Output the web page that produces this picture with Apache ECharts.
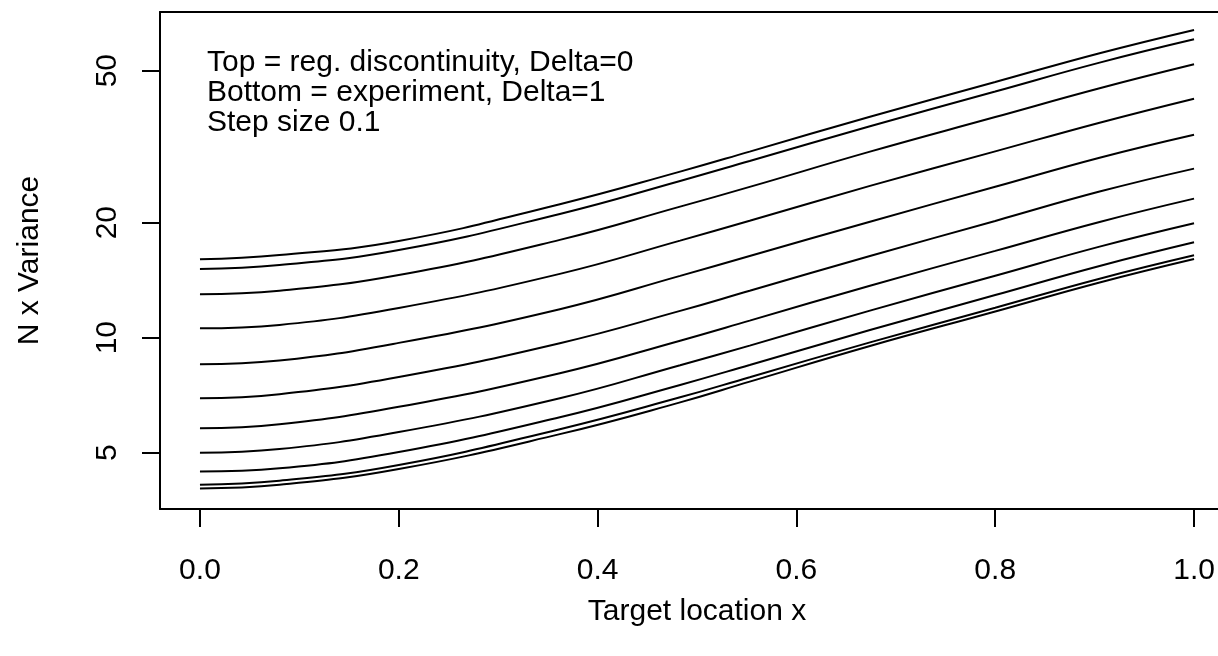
<!DOCTYPE html>
<html>
<head>
<meta charset="utf-8">
<script src="https://cdn.jsdelivr.net/npm/echarts@6/dist/echarts.min.js"></script>
<style>
  html, body { margin: 0; padding: 0; background: #fff; }
  #chart { width: 1218px; height: 656px; }
</style>
</head>
<body>
<div id="chart"></div>
<script>
// Target locations where each variance curve is sampled
const targetX = [0, 0.08, 0.2, 0.362, 0.483, 0.553, 0.674, 0.8, 0.905, 1.0];

// N x Variance for Delta = 0.0 ... 1.0 (top curve = Delta 0, bottom curve = Delta 1)
const delta00 = [16.04, 16.46, 17.91, 22.35, 27.20, 30.69, 37.88, 46.68, 55.53, 63.9];
const delta01 = [15.13, 15.50, 16.96, 21.08, 25.72, 29.01, 35.76, 44.09, 52.48, 60.4];
const delta02 = [12.99, 13.27, 14.59, 18.03, 22.03, 24.81, 30.69, 37.80, 44.97, 51.96];
const delta03 = [10.58, 10.80, 11.96, 14.69, 17.95, 20.24, 24.96, 30.73, 36.54, 42.23];
const delta04 = [8.52, 8.71, 9.69, 11.87, 14.51, 16.36, 20.12, 24.83, 29.59, 33.99];
const delta05 = [6.94, 7.11, 7.89, 9.67, 11.75, 13.27, 16.36, 20.21, 24.12, 27.70];
const delta06 = [5.79, 5.93, 6.59, 8.07, 9.82, 11.08, 13.68, 16.87, 20.09, 23.12];
const delta07 = [5.00, 5.11, 5.66, 6.94, 8.47, 9.53, 11.77, 14.52, 17.31, 19.93];
const delta08 = [4.46, 4.55, 5.02, 6.19, 7.52, 8.48, 10.47, 12.93, 15.41, 17.77];
const delta09 = [4.12, 4.22, 4.64, 5.76, 6.98, 7.88, 9.72, 11.98, 14.27, 16.43];
const delta10 = [4.03, 4.12, 4.53, 5.59, 6.77, 7.67, 9.51, 11.71, 13.95, 16.07];

const curves = [delta00, delta01, delta02, delta03, delta04, delta05,
                delta06, delta07, delta08, delta09, delta10];
const deltaNames = ['0', '0.1', '0.2', '0.3', '0.4', '0.5', '0.6', '0.7', '0.8', '0.9', '1'];

// Axis ticks
const xTicks = [0, 0.2, 0.4, 0.6, 0.8, 1.0];
const yTicks = [5, 10, 20, 50];

// Note lines in the upper-left corner
const noteLines = [
  'Top = reg. discontinuity, Delta=0',
  'Bottom = experiment, Delta=1',
  'Step size 0.1'
];

const FONT = '"Liberation Sans", Arial, Helvetica, sans-serif';
const FS = 30;
const FRAME = { color: '#000', width: 2 };

// Visible x window; the plot frame continues past the right edge of the page
const X_MIN = -0.0402;
const X_MAX = 1.0241;

const chart = echarts.init(document.getElementById('chart'), null, { renderer: 'canvas' });

const series = curves.map((vals, i) => ({
  name: 'Delta=' + deltaNames[i],
  type: 'line',
  xAxisIndex: 0,
  data: targetX.map((x, j) => [x, vals[j]]),
  showSymbol: false,
  smooth: 0.45,
  lineStyle: { color: '#000', width: 2 },
  emphasis: { disabled: true },
  silent: true,
  z: 3
}));

const option = {
  animation: false,
  backgroundColor: '#fff',
  grid: { left: 160, top: 12, right: 0, bottom: 147, show: false },
  xAxis: [{
    type: 'value',
    position: 'bottom',
    min: X_MIN, max: X_MAX,
    axisLine: { show: true, onZero: false, lineStyle: FRAME },
    splitLine: { show: false },
    axisTick: {
      show: true, length: 18, inside: false,
      customValues: xTicks,
      lineStyle: FRAME
    },
    axisLabel: {
      customValues: xTicks,
      formatter: v => v.toFixed(1),
      margin: 47,
      color: '#000',
      fontFamily: FONT, fontSize: FS
    },
    name: 'Target location x',
    nameLocation: 'middle',
    nameGap: 88,
    nameTextStyle: { color: '#000', fontFamily: FONT, fontSize: FS, padding: [0, 0, 0, 16] }
  }, {
    // top edge of the frame
    type: 'value',
    position: 'top',
    min: X_MIN, max: X_MAX,
    axisLine: { show: true, onZero: false, lineStyle: FRAME },
    axisTick: { show: false },
    axisLabel: { show: false },
    splitLine: { show: false }
  }],
  yAxis: {
    type: 'log',
    logBase: 10,
    min: 3.56, max: 71.2,
    axisLine: { show: true, onZero: false, lineStyle: FRAME },
    splitLine: { show: false },
    axisTick: {
      show: true, length: 18, inside: false,
      customValues: yTicks,
      lineStyle: FRAME
    },
    axisLabel: {
      customValues: yTicks,
      rotate: 90,
      margin: 37,
      color: '#000',
      fontFamily: FONT, fontSize: FS
    },
    name: 'N x Variance',
    nameLocation: 'middle',
    nameRotate: 90,
    nameGap: 115,
    nameTextStyle: { color: '#000', fontFamily: FONT, fontSize: FS }
  },
  graphic: noteLines.map((t, i) => ({
    type: 'text',
    left: 207,
    top: 48 + i * 30,
    silent: true,
    style: { text: t, fill: '#000', font: FS + 'px ' + FONT }
  })),
  series: series
};

chart.setOption(option);
</script>
</body>
</html>
